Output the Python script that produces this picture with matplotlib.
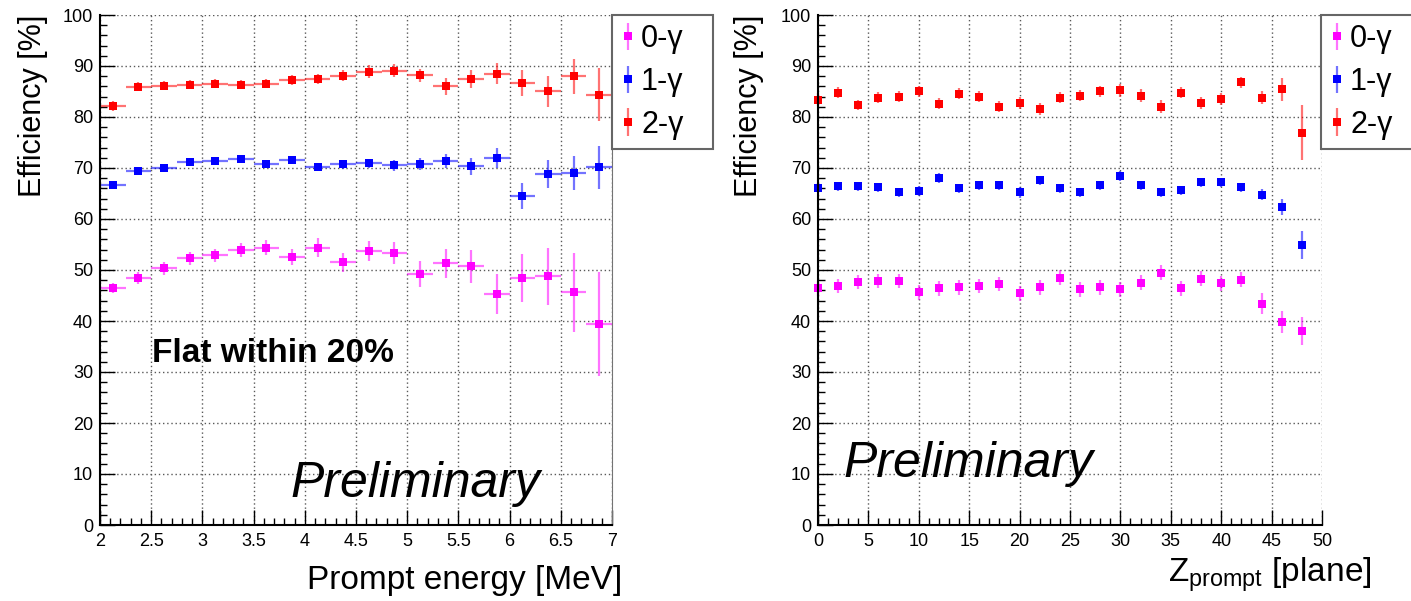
import numpy as np
import matplotlib
matplotlib.use('Agg')
import matplotlib.pyplot as plt
from matplotlib.ticker import MultipleLocator
from matplotlib.container import ErrorbarContainer
from matplotlib.legend_handler import HandlerErrorbar

plt.rcParams['font.family'] = ['Liberation Sans', 'DejaVu Sans']

# ---- left panel: efficiency vs prompt energy ----
energy = [2.125, 2.375, 2.625, 2.875, 3.125, 3.375, 3.625, 3.875, 4.125, 4.375,
          4.625, 4.875, 5.125, 5.375, 5.625, 5.875, 6.125, 6.375, 6.625, 6.875]
energy_halfbin = 0.125

e_0g = [46.4, 48.4, 50.3, 52.3, 52.9, 53.9, 54.4, 52.5, 54.4, 51.5,
        53.7, 53.3, 49.2, 51.3, 50.7, 45.3, 48.4, 48.8, 45.6, 39.5]
e_0g_err = [1.0, 1.2, 1.2, 1.3, 1.3, 1.4, 1.5, 1.6, 1.8, 1.9,
            2.0, 2.2, 2.6, 2.9, 3.2, 4.0, 4.7, 5.6, 7.7, 10.2]
e_1g = [66.6, 69.5, 70.0, 71.1, 71.4, 71.8, 70.7, 71.6, 70.2, 70.7,
        70.9, 70.5, 70.8, 71.4, 70.3, 72.0, 64.5, 68.8, 69.0, 70.1]
e_1g_err = [0.6, 0.6, 0.6, 0.7, 0.7, 0.7, 0.7, 0.8, 0.8, 0.9,
            0.9, 1.0, 1.2, 1.4, 1.6, 2.0, 2.5, 2.7, 3.4, 4.2]
e_2g = [82.1, 85.9, 86.1, 86.3, 86.5, 86.3, 86.5, 87.3, 87.5, 88.1,
        88.9, 89.1, 88.2, 86.0, 87.5, 88.5, 86.7, 85.0, 88.0, 84.4]
e_2g_err = [1.0, 0.9, 0.9, 0.9, 0.9, 0.9, 0.9, 1.0, 1.0, 1.1,
            1.2, 1.2, 1.3, 1.7, 1.8, 2.0, 2.5, 3.1, 3.4, 5.2]

# ---- right panel: efficiency vs Z prompt ----
planes = [0, 2, 4, 6, 8, 10, 12, 14, 16, 18, 20, 22, 24,
          26, 28, 30, 32, 34, 36, 38, 40, 42, 44, 46, 48]
z_0g = [46.4, 46.8, 47.7, 47.9, 47.9, 45.6, 46.4, 46.6, 46.8, 47.2, 45.4, 46.6, 48.5,
        46.2, 46.6, 46.2, 47.5, 49.5, 46.4, 48.3, 47.4, 48.1, 43.4, 39.8, 38.0]
z_0g_err = [1.4, 1.4, 1.4, 1.4, 1.4, 1.5, 1.4, 1.5, 1.4, 1.4, 1.5, 1.5, 1.5,
            1.4, 1.5, 1.5, 1.5, 1.5, 1.4, 1.5, 1.5, 1.5, 2.0, 2.2, 2.7]
z_1g = [66.1, 66.4, 66.4, 66.2, 65.2, 65.5, 68.0, 66.0, 66.6, 66.6, 65.2, 67.6, 66.0,
        65.2, 66.6, 68.4, 66.6, 65.2, 65.6, 67.2, 67.2, 66.2, 64.8, 62.4, 54.9]
z_1g_err = [0.9, 0.9, 0.9, 0.9, 0.9, 0.9, 1.0, 0.9, 0.9, 0.9, 1.0, 0.9, 0.9,
            0.9, 0.9, 1.0, 0.9, 0.9, 0.9, 0.9, 0.9, 0.9, 1.0, 1.6, 2.8]
z_2g = [83.4, 84.8, 82.4, 83.8, 84.0, 85.0, 82.6, 84.6, 84.0, 82.0, 82.8, 81.6, 83.8,
        84.2, 85.0, 85.2, 84.2, 82.0, 84.8, 82.8, 83.6, 86.8, 83.8, 85.4, 76.9]
z_2g_err = [1.3, 1.0, 1.0, 1.1, 1.1, 1.1, 1.1, 1.1, 1.0, 1.1, 1.2, 1.2, 1.1,
            1.1, 1.0, 1.2, 1.2, 1.3, 1.0, 1.2, 1.2, 1.1, 1.2, 2.2, 5.4]

labels = ['0-\u03b3', '1-\u03b3', '2-\u03b3']
colors = ['#ff00ff', '#0000ff', '#ff0000']

W, H = 1411, 601
fig = plt.figure(figsize=(W / 100, H / 100), dpi=100)
axL = fig.add_axes([100 / W, 76 / H, 512 / W, 510 / H])
axR = fig.add_axes([818 / W, 76 / H, 504 / W, 510 / H])


def ecol(c, a=0.55):
    rgb = matplotlib.colors.to_rgb(c)
    return (rgb[0], rgb[1], rgb[2], a)


handlesL = []
for y, err, c, lab in zip([e_0g, e_1g, e_2g], [e_0g_err, e_1g_err, e_2g_err], colors, labels):
    h = axL.errorbar(energy, y, yerr=err, xerr=energy_halfbin, fmt='s', ms=6, mew=0,
                     color=c, ecolor=ecol(c), elinewidth=1.6, capsize=0, label=lab)
    handlesL.append(h)

handlesR = []
for y, err, c, lab in zip([z_0g, z_1g, z_2g], [z_0g_err, z_1g_err, z_2g_err], colors, labels):
    h = axR.errorbar(planes, y, yerr=err, fmt='s', ms=5.5, mew=0, clip_on=False,
                     color=c, ecolor=ecol(c), elinewidth=1.6, capsize=0, label=lab)
    handlesR.append(h)

for ax, xmaj, xmin in [(axL, 0.5, 0.1), (axR, 5, 1)]:
    ax.set_ylim(0, 100)
    ax.xaxis.set_major_locator(MultipleLocator(xmaj))
    ax.xaxis.set_minor_locator(MultipleLocator(xmin))
    ax.yaxis.set_major_locator(MultipleLocator(10))
    ax.yaxis.set_minor_locator(MultipleLocator(2))
    ax.tick_params(which='both', direction='in', top=False, right=False, labelsize=13)
    ax.tick_params(which='major', length=11, width=1.0)
    ax.tick_params(which='minor', length=5, width=1.0)
    ax.tick_params(axis='x', pad=6)
    ax.tick_params(axis='y', pad=5)
    ax.grid(which='major', linestyle=(0, (1, 2)), color='0.35', linewidth=1)
    ax.spines['left'].set_linewidth(1.5)
    ax.spines['bottom'].set_linewidth(1.5)
    ax.spines['top'].set_visible(False)
    ax.spines['right'].set_visible(False)

axL.set_xlim(2, 7)
axR.set_xlim(0, 50)
axL.spines['right'].set_visible(True)
axL.spines['right'].set_color('0.45')
axL.set_xticks([2, 2.5, 3, 3.5, 4, 4.5, 5, 5.5, 6, 6.5, 7])
axL.set_xticklabels(['2', '2.5', '3', '3.5', '4', '4.5', '5', '5.5', '6', '6.5', '7'])

# axis titles
fig.text(33 / W, 1 - 15 / H, 'Efficiency [%]', rotation=90, ha='center', va='top', fontsize=22)
fig.text(749 / W, 1 - 15 / H, 'Efficiency [%]', rotation=90, ha='center', va='top', fontsize=22)
fig.text(622 / W, 1 - 580 / H, 'Prompt energy [MeV]', ha='right', va='center', fontsize=24)
plt.rcParams['mathtext.fontset'] = 'custom'
plt.rcParams['mathtext.rm'] = 'Liberation Sans'
fig.text(1372 / W, 1 - 575 / H, r'Z$_{\mathregular{prompt}}$ [plane]', ha='right', va='center',
         fontsize=24)

# annotations
fig.text(290 / W, 1 - 497 / H, 'Preliminary', style='italic', fontsize=36, va='baseline')
fig.text(843 / W, 1 - 477 / H, 'Preliminary', style='italic', fontsize=36, va='baseline')
fig.text(152 / W, 1 - 362 / H, 'Flat within 20%', fontsize=24, weight='bold', va='baseline')

hmap = {ErrorbarContainer: HandlerErrorbar(xerr_size=0, yerr_size=0.45)}
for handles, x0 in [(handlesL, 612), (handlesR, 1321)]:
    leg = fig.legend(handles=handles, labels=labels, loc='upper left',
                     bbox_to_anchor=(x0 / W, 1 - 143 / H, 101 / W, 128 / H),
                     bbox_transform=fig.transFigure, mode='expand', borderaxespad=0,
                     fontsize=22, numpoints=1, handlelength=0.45, handletextpad=0.2,
                     borderpad=0.3, labelspacing=0.42, fancybox=False, framealpha=1,
                     edgecolor='0.4', handler_map=hmap)
    leg.get_frame().set_linewidth(1.5)

fig.savefig('out.png', dpi=100)
